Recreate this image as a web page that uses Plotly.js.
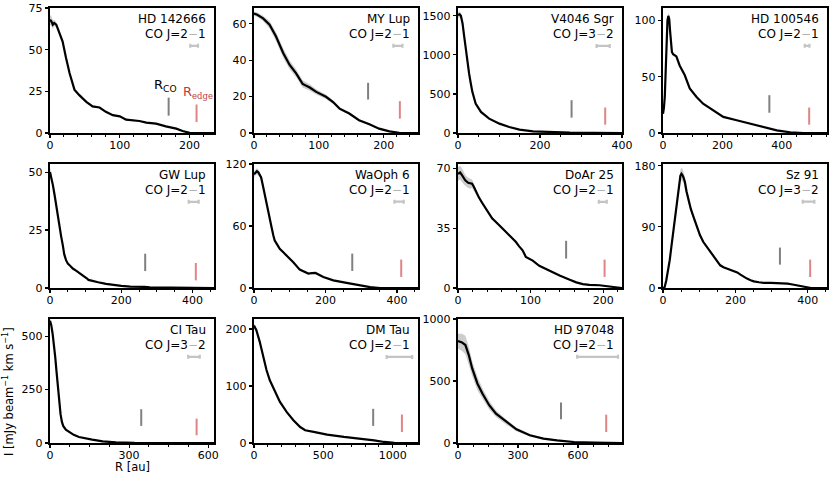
<!DOCTYPE html>
<html>
<head>
<meta charset="utf-8">
<script src="https://cdn.plot.ly/plotly-3.0.1.min.js"></script>
<style>html,body{margin:0;padding:0;background:#fff}#chart{width:830px;height:478px}</style>
</head>
<body>
<div id="chart"></div>
<script>
// ---------- data ----------
const names = ["HD 142666","MY Lup","V4046 Sgr","HD 100546","GW Lup","WaOph 6","DoAr 25","Sz 91","CI Tau","DM Tau","HD 97048"];
const jUp = [2,2,3,2,2,2,2,3,3,2,2];
const jLo = [1,1,2,1,1,1,1,2,2,1,1];

const r1 = [0,2,4,6,9,13,18,23,28,35,42,52,61,71,80,90,100,109,128,138,152,166,181,190,200,215,235];
const i1 = [68,67,65,66,65,61,55,45,36,26,22.7,18.7,16,15.3,12.7,10.7,10,8,7.2,6.2,5.6,4,2.6,1.2,0.1,0,0];
const e1 = [3,3,2.5,2,1.5,1.2,1,1,1,0.8,0.7,0.6,0.5,0.5,0.5,0.5,0.4,0.4,0.4,0.3,0.3,0.3,0.3,0.2,0.1,0,0];

const r2 = [0,5,14,24,34,45,55,65,75,86,96,111,122,132,147,162,178,193,209,224,240,253];
const i2 = [65.6,65,63,59.5,53,44,37.4,32.8,27,25,22.6,19.9,17,13.4,10.7,7,4.8,2.4,0.9,0.1,0,0];
const e2 = [1.2,1.2,1.5,2,2.4,2.6,2.4,2.2,2,1.8,1.5,1.2,1,0.8,0.7,0.6,0.5,0.4,0.3,0.1,0,0];

const r3 = [0,4,7,11,15,19,23,27,31,35,43,56,76,101,125,150,183,224,273,330,400];
const i3 = [1510,1520,1500,1405,1240,1063,900,763,640,527,377,270,184,120,77,43,21,9,4,1,0];
const e3 = [40,40,35,30,25,20,15,12,10,10,8,6,5,4,3,2,1,1,0,0,0];

const r4 = [0,3,6,9,12,15,18,21,24,27,30,34,39,45,56,73,90,113,135,169,203,248,293,338,383,428,473,552];
const i4 = [17,22,32,55,82,100,104,101,90,76,72,70,69,68,60,51.5,39.6,32,26,20,14.3,11.3,8.3,5.4,2.4,0.6,0,0];
const e4 = [1,1.5,2,2.5,3,3,3,3,2.5,2,1.5,1,1,1,0.8,0.7,0.6,0.5,0.4,0.3,0.3,0.2,0.2,0.1,0.1,0,0,0];

const r5 = [0,4,8,13,17,22,26,31,36,40,45,50,57,64,73,82,90,96,103,108,120,135,157,180,200,225,250,265,280,320,353,400,460];
const i5 = [50,47.5,44.5,40,35.7,31,27,22.5,18.4,14.5,12,10.5,9.5,8.4,7.5,6.6,5.8,5,4.2,3.5,3,2.5,1.8,1.2,0.9,0.6,0.7,0.5,0.3,0.2,0,0,0];
const e5 = [2,1.5,1,0.8,0.7,0.6,0.5,0.5,0.4,0.4,0.3,0.3,0.3,0.3,0.3,0.3,0.3,0.3,0.3,0.3,0.2,0.2,0.2,0.1,0.1,0.1,0.1,0.1,0,0,0,0,0];

const r6 = [0,4,8,12,16,20,25,30,35,39,44,49,54,58,65,72,82,91,110,128,140,152,162,172,194,222,259,297,325,353,400,459];
const i6 = [110,112,113,112,110,107,99,90,82,75.4,67,59,51,46,42,38,34.5,31.7,25,17.8,16,14,14.4,14.6,10.7,7.4,4.9,2.6,0.8,0,0,0];
const e6 = [3,3,3,3,2.5,2,1.5,1.2,1,1,1,1,1,0.8,0.8,0.8,0.7,0.6,0.5,0.4,0.4,0.4,0.4,0.4,0.3,0.3,0.2,0.2,0.1,0,0,0];

const r7 = [0,3,5.5,8,10,14,17,19.4,22,24,28.7,33,38,47,56.5,66,75,79.6,84,89,93.5,103,112,126,140,154,163,172,181,195,209,220,226];
const i7 = [66.7,67.5,66,64,63,61.5,61,61,59,57,53,50,46.5,40.7,36.8,32.8,29,27,24.5,22,18.2,16,13,10,7.3,4.8,3.3,2.3,1.8,1.6,1,0.3,0];
const e7 = [4,4,4,3.5,3,3,3,2.5,2,1.5,1.2,1,1,0.8,0.7,0.6,0.6,0.5,0.5,0.5,0.4,0.4,0.4,0.3,0.3,0.3,0.2,0.2,0.2,0.1,0.1,0,0];

const r8 = [0,4.6,9,14,18.6,23,28,33,37,42,45,48,51,54,57,60.5,65,70,77,84,93,102,111,121,130,140,149,158,167,177,186,195,205,214,223,232,242,251,265,279,298,316,330,344,358,372,381,391,400,409,430,453];
const i8 = [0,1.5,11,25,41,60,80,100,117,142,155,165,168,166,162,156,142,129,116,105,91,78,68,60.5,53,46,39,33.4,30.5,28.5,27.5,26,23,19.7,16.5,13.8,11.5,9.8,8.5,7.4,7.4,7.4,7,6.4,5.2,3.9,2.8,1.5,0.7,0,0,0];
const e8 = [0,0.5,1,2,3,4,5,6,7,8,9,9,9,9,8,7,6,5,4,3.5,3,2.5,2,2,1.5,1.5,1.2,1,1,1,1,0.8,0.8,0.7,0.6,0.5,0.5,0.4,0.4,0.3,0.3,0.3,0.3,0.3,0.2,0.2,0.1,0.1,0,0,0,0];

const r9 = [0,5,10,15,20,25,30,35,40,45,50,60,75,90,110,130,160,200,250,320,400,622];
const i9 = [572,550,510,460,400,330,255,190,135,100,80,62,48,38,28,22,16,8,2.5,0.3,0,0];
const e9 = [15,12,10,8,7,6,5,5,4,3,2,1.5,1,1,0.8,0.6,0.5,0.3,0.2,0,0,0];

const r10 = [0,17,41,65,90,114,150,187,235,284,333,369,430,527,648,769,866,939,1012,1100,1182];
const i10 = [206,198,178,151,128,110,90,72,54.5,40,28,22.3,19.4,14.7,10.6,7.6,4.7,1.8,0.2,0,0];
const e10 = [4,3,2.5,2,1.5,1.2,1,1,0.8,0.6,0.5,0.5,0.4,0.3,0.3,0.2,0.2,0.1,0,0,0];

const r11 = [0,20,37,54,71,97,122,156,190,241,292,359,427,495,580,681,760,820];
const i11 = [822,811,790,709,601,480,399,305,237,170,110,62,35,21.6,8,2.7,0.5,0];
const e11 = [60,70,75,70,60,55,45,35,28,20,15,10,7,5,3,1,0,0];

// R_CO (grey) and R_edge (red) markers, beam size bars
const rco     = [170,176,277,358,267,275,149,323,346,859,515];
const rcoLo   = [10.4,18.4,197,18,7.3,16.5,17.2,34.4,80,30,191];
const rcoHi   = [21.2,27.6,420,33.6,14.8,33.3,27.6,59.5,158,60,326];
const redge   = [210,225,359,492,409,412,202,406.5,556,1066,741];
const redgeLo = [6.6,7.9,107,7.4,3.3,10.7,6.5,16.2,36,19.4,89];
const redgeHi = [17.1,17.5,326,22.6,10.8,27.5,16.6,41.8,114,50,229];
const beamC    = [206.5,222,354,485,403,406,199.5,402,546,1048,698];
const beamHalf = [5.5,7,16,8,14,13,5.5,16,22,92,102];
const beamY    = [52.3,47.9,1114,77.4,37.2,83.5,50.4,127,403,151,695];

// axes
const xMax = [235,253,400.01,552,460,459,226,453,622,1182,820];
const yMax = [75.01,68.7,1600,111,53.5,120.01,72.5,182.5,580,217.6,1000.01];
const xDtick = [100,100,200,200,200,200,100,200,300,500,300];
const xMinor = [20,20,50,50,50,50,20,50,75,100,75];
const yTicks = [[0,25,50,75],[0,20,40,60],[0,500,1000,1500],[0,50,100],[0,25,50],[0,60,120],[0,35,70],[0,90,180],[0,250,500],[0,100,200],[0,500,1000]];

const profR = [r1,r2,r3,r4,r5,r6,r7,r8,r9,r10,r11];
const profI = [i1,i2,i3,i4,i5,i6,i7,i8,i9,i10,i11];
const profE = [e1,e2,e3,e4,e5,e6,e7,e8,e9,e10,e11];

// ---------- layout geometry (pixels) ----------
const W = 830, H = 478;
const colPx = [[50,214],[254,418],[458,622],[663,827]];
const rowPx = [[8,133],[164,288],[319,443]];
const FONT = "DejaVu Sans, sans-serif";

const traces = [];
const layout = {
  width: W, height: H,
  margin: {l:0, r:0, t:0, b:0},
  paper_bgcolor: "#fff", plot_bgcolor: "#fff",
  showlegend: false,
  font: {family: FONT, size: 11, color: "#000"},
  annotations: []
};

for (let k = 0; k < 11; k++) {
  const n = k + 1;
  const xs = n === 1 ? "x" : "x" + n;
  const ys = n === 1 ? "y" : "y" + n;
  const c = colPx[k % 4], rw = rowPx[Math.floor(k / 4)];
  const R = profR[k], I = profI[k], E = profE[k];

  const up = I.map((v, j) => v + E[j]);
  const lo = I.map((v, j) => Math.max(0, v - E[j]));
  traces.push({
    x: R.concat(R.slice().reverse()),
    y: up.concat(lo.slice().reverse()),
    xaxis: xs, yaxis: ys, type: "scatter", mode: "lines",
    fill: "toself", fillcolor: "rgba(200,200,200,0.9)",
    line: {width: 0}, hoverinfo: "skip"
  });
  traces.push({
    x: R, y: I, xaxis: xs, yaxis: ys, type: "scatter", mode: "lines",
    line: {color: "#000", width: 2.2}, hoverinfo: "skip"
  });
  traces.push({
    x: [rco[k], rco[k]], y: [rcoLo[k], rcoHi[k]], xaxis: xs, yaxis: ys,
    type: "scatter", mode: "lines", line: {color: "#808080", width: 2}, hoverinfo: "skip"
  });
  traces.push({
    x: [redge[k], redge[k]], y: [redgeLo[k], redgeHi[k]], xaxis: xs, yaxis: ys,
    type: "scatter", mode: "lines", line: {color: "#e08585", width: 2}, hoverinfo: "skip"
  });
  traces.push({
    x: [beamC[k]], y: [beamY[k]], xaxis: xs, yaxis: ys,
    type: "scatter", mode: "markers", marker: {size: 1, color: "#c4c4c4"},
    error_x: {type: "constant", value: beamHalf[k], color: "#c4c4c4", thickness: 2.2, width: 2},
    hoverinfo: "skip"
  });

  const axCommon = {
    showgrid: false, zeroline: false, showline: true, mirror: true,
    linecolor: "#000", linewidth: 1.8, ticks: "outside", ticklen: 3.5,
    tickwidth: 1.2, tickcolor: "#000",
    tickfont: {family: FONT, size: 11, color: "#000"}, fixedrange: true
  };
  layout["xaxis" + (n === 1 ? "" : n)] = Object.assign({}, axCommon, {
    domain: [c[0] / W, c[1] / W], anchor: ys, range: [0, xMax[k]],
    tick0: 0, dtick: xDtick[k], ticklabelstandoff: -3,
    minor: {dtick: xMinor[k], tick0: 0, ticks: "outside", ticklen: 2, tickwidth: 1, tickcolor: "#000", showgrid: false}
  });
  layout["yaxis" + (n === 1 ? "" : n)] = Object.assign({}, axCommon, {
    domain: [1 - rw[1] / H, 1 - rw[0] / H], anchor: xs, range: [0, yMax[k]],
    tickmode: "array", tickvals: yTicks[k], ticktext: yTicks[k].map(String)
  });

  layout.annotations.push({
    xref: xs + " domain", yref: ys + " domain", x: 1, y: 1,
    xanchor: "right", yanchor: "middle", xshift: -6, yshift: -11, align: "right",
    showarrow: false, font: {family: FONT, size: 12, color: "#000"},
    text: names[k]
  });
  layout.annotations.push({
    xref: xs + " domain", yref: ys + " domain", x: 1, y: 1,
    xanchor: "right", yanchor: "middle", xshift: -6, yshift: -25.5, align: "right",
    showarrow: false, font: {family: FONT, size: 12, color: "#000"},
    text: "CO J=" + jUp[k] + "<span style='color:#b4b4b4'>\u2212</span>" + jLo[k]
  });
}

// R_CO / R_edge labels (first panel only)
layout.annotations.push({
  xref: "x", yref: "y", x: rco[0], y: rcoHi[0] + 0.8, xanchor: "center", yanchor: "bottom",
  xshift: -3, showarrow: false, font: {family: FONT, size: 13, color: "#000"},
  text: "R<sub>CO</sub>"
});
layout.annotations.push({
  xref: "x", yref: "y", x: redge[0], y: redgeHi[0] + 1.2, xanchor: "center", yanchor: "bottom",
  xshift: 1, showarrow: false, font: {family: FONT, size: 13, color: "#c23b3b"},
  text: "R<sub><span style='font-family:DejaVu Serif;font-size:8.5px'>edge</span></sub>"
});

// axis titles
layout.annotations.push({
  xref: "paper", yref: "paper", x: 132 / W, y: 1 - 467 / H, xanchor: "center", yanchor: "middle",
  showarrow: false, font: {family: FONT, size: 11.5, color: "#000"}, text: "R [au]"
});
layout.annotations.push({
  xref: "paper", yref: "paper", x: 8 / W, y: 1 - 392 / H, xanchor: "center", yanchor: "middle",
  textangle: -90, showarrow: false, font: {family: FONT, size: 11.5, color: "#000"},
  text: "I [mJy beam<sup>\u22121</sup> km s<sup>\u22121</sup>]"
});

Plotly.newPlot("chart", traces, layout, {staticPlot: true, displayModeBar: false});
</script>
</body>
</html>
